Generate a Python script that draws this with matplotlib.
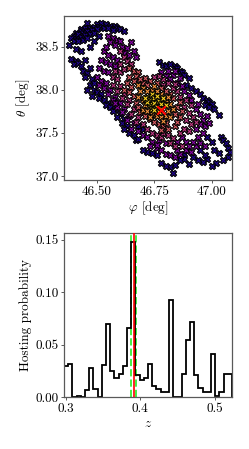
import numpy as np
import matplotlib
matplotlib.use("Agg")
import matplotlib.pyplot as plt

plt.rcParams['font.family'] = 'serif'
plt.rcParams['font.serif'] = ['cmr10']
plt.rcParams['mathtext.fontset'] = 'cm'
plt.rcParams['axes.formatter.use_mathtext'] = True

# ---------------- data: sky positions grouped by colour level ----------------
band_levels = [0.03, 0.28, 0.45, 0.58, 0.75, 0.92]

band_navy = [
    (46.46,38.77),(46.50,38.76),(46.52,38.77),(46.54,38.76),(46.56,38.74),(46.58,38.74),(46.59,38.72),
    (46.60,38.70),(46.62,38.68),(46.43,38.70),(46.45,38.71),(46.47,38.72),(46.49,38.73),(46.41,38.66),
    (46.43,38.68),(46.46,38.68),(46.48,38.69),(46.51,38.73),(46.53,38.72),(46.40,38.62),(46.42,38.64),
    (46.44,38.66),(46.39,38.60),(46.41,38.59),(46.43,38.61),(46.45,38.63),(46.47,38.65),(46.40,38.56),
    (46.42,38.57),(46.44,38.58),(46.46,38.60),(46.50,38.70),(46.55,38.71),(46.57,38.69),(46.49,38.66),
    (46.41,38.47),(46.43,38.45),(46.47,38.50),(46.49,38.56),(46.51,38.62),(46.38,38.52),
    (46.39,38.36),(46.41,38.33),(46.40,38.30),(46.42,38.31),(46.43,38.28),(46.45,38.35),(46.44,38.22),
    (46.46,38.19),(46.45,38.15),(46.48,38.12),(46.47,38.05),(46.49,38.00),(46.46,38.00),(46.50,37.97),
    (46.48,37.93),(46.52,37.95),(46.51,37.90),(46.53,37.88),(46.55,37.85),(46.54,37.82),(46.56,37.80),
    (46.58,37.78),(46.57,37.75),(46.60,37.72),(46.59,37.68),(46.62,37.66),(46.61,37.62),(46.63,37.58),
    (46.62,37.55),(46.64,37.50),(46.66,37.48),(46.67,37.42),(46.68,37.43),(46.47,38.25),(46.49,38.08),
    (46.77,38.32),(46.79,38.29),(46.80,38.27),(46.82,38.30),(46.84,38.28),(46.85,38.25),(46.86,38.22),
    (46.87,38.20),(46.88,38.17),(46.90,38.13),(46.89,38.05),(46.91,38.02),(46.93,37.98),(46.95,37.95),
    (46.96,37.90),(46.98,37.88),(46.99,37.86),(47.00,37.83),(46.97,37.82),(47.03,37.71),(46.99,37.80),
    (47.01,37.78),(47.04,37.45),(47.05,37.42),(47.06,37.38),(47.07,37.33),(47.08,37.28),(47.07,37.22),
    (47.05,37.18),(47.02,37.15),(47.00,37.12),(46.98,37.20),(46.96,37.16),(46.94,37.18),(46.92,37.22),
    (46.90,37.14),(46.88,37.20),(46.86,37.18),(46.84,37.13),(46.82,37.11),(46.80,37.12),(46.78,37.15),
    (46.83,37.04),(46.76,37.24),(46.74,37.27),(46.72,37.28),(46.70,37.30),(46.95,37.30),(47.03,37.27),
    (47.00,37.40),(46.98,37.45),(46.70,37.55),(46.68,37.58),(46.88,37.25),(46.97,37.24),(47.01,37.30),
]
band_purple = [
    (46.55,38.62),(46.57,38.60),(46.59,38.58),(46.56,38.55),(46.60,38.56),(46.58,38.52),(46.61,38.50),
    (46.63,38.48),(46.65,38.55),(46.62,38.43),(46.66,38.45),(46.64,38.40),(46.67,38.38),(46.53,38.45),
    (46.55,38.40),(46.57,38.38),(46.52,38.35),(46.54,38.32),(46.56,38.30),(46.58,38.28),(46.51,38.25),
    (46.53,38.22),(46.55,38.20),(46.50,38.15),(46.52,38.10),(46.54,38.08),(46.53,38.02),(46.56,38.00),
    (46.55,37.95),(46.58,37.92),(46.57,37.88),(46.60,37.85),(46.59,37.80),(46.62,37.78),(46.61,37.74),
    (46.64,37.70),(46.63,37.65),(46.66,37.62),(46.65,37.55),(46.68,37.52),(46.70,37.48),(46.72,37.45),
    (46.74,37.40),(46.73,37.35),(46.76,37.32),(46.78,37.30),(46.80,37.26),(46.82,37.24),(46.84,37.22),
    (46.86,37.25),(46.85,37.30),(46.89,37.30),(46.91,37.28),(46.93,37.35),(46.92,37.40),(46.95,37.38),
    (46.97,37.35),(46.94,37.45),(46.96,37.50),(46.93,37.55),(46.97,37.58),(46.99,37.62),(46.96,37.65),
    (46.98,37.70),(46.95,37.72),(46.93,37.78),(46.94,37.84),(46.91,37.88),(46.90,37.94),(46.88,37.98),
    (46.87,38.04),(46.85,38.08),(46.86,38.14),(46.83,38.17),(46.84,38.22),(46.81,38.22),(46.78,38.20),
    (46.80,38.16),(46.82,38.12),(46.87,37.45),(46.85,37.40),(46.89,37.40),(46.80,37.38),(46.77,37.42),
    (46.76,37.36),(46.54,38.50),(46.59,38.35),(46.51,38.05),(46.58,37.85),(46.90,37.35),(46.95,37.60),
]
band_magenta = [
    (46.60,38.45),(46.62,38.38),(46.63,38.33),(46.65,38.30),(46.60,38.30),(46.58,38.22),(46.60,38.20),
    (46.62,38.24),(46.57,38.15),(46.59,38.12),(46.57,38.06),(46.60,38.04),(46.59,37.98),(46.62,37.95),
    (46.61,37.90),(46.64,37.88),(46.63,37.83),(46.66,37.78),(46.65,37.72),(46.68,37.68),(46.67,37.63),
    (46.70,37.60),(46.72,37.55),(46.74,37.50),(46.76,37.47),(46.78,37.45),(46.79,37.50),(46.81,37.47),
    (46.83,37.44),(46.82,37.38),(46.84,37.35),(46.87,37.35),(46.86,37.50),(46.88,37.55),(46.90,37.52),
    (46.91,37.60),(46.89,37.65),(46.92,37.68),(46.90,37.73),(46.88,37.80),(46.91,37.82),(46.89,37.88),
    (46.86,37.92),(46.85,37.98),(46.83,38.02),(46.84,38.07),(46.81,38.08),(46.79,38.12),(46.77,38.16),
    (46.75,38.15),(46.79,38.06),(46.93,37.63),
]
band_pink = [
    (46.64,38.25),(46.66,38.22),(46.68,38.20),(46.67,38.16),(46.64,38.15),(46.66,38.10),(46.63,38.08),
    (46.65,38.03),(46.62,38.00),(46.64,37.97),(46.66,37.93),(46.67,37.85),(46.68,37.80),(46.69,37.74),
    (46.71,37.70),(46.73,37.66),(46.75,37.63),(46.77,37.60),(46.79,37.58),(46.78,37.53),(46.81,37.55),
    (46.80,37.62),(46.84,37.58),(46.85,37.63),(46.86,37.68),(46.84,37.72),(46.87,37.75),(46.85,37.80),
    (46.86,37.86),(46.83,37.90),(46.82,37.95),(46.80,37.98),(46.78,38.02),(46.76,38.08),(46.73,38.10),
    (46.71,38.14),(46.70,38.08),(46.72,38.05),(46.69,38.12),
]
band_orange = [
    (46.68,38.05),(46.70,38.02),(46.69,37.98),(46.68,37.92),(46.70,37.88),(46.71,37.82),(46.70,37.77),
    (46.72,37.75),(46.74,37.72),(46.76,37.70),(46.78,37.68),(46.80,37.70),(46.82,37.68),(46.81,37.75),
    (46.83,37.78),(46.82,37.84),(46.80,37.88),(46.81,37.92),(46.78,37.95),(46.76,37.98),(46.74,38.00),
    (46.72,37.98),(46.75,38.04),(46.79,37.64),(46.73,37.68),
]
band_yellow = [
    (46.72,37.92),(46.73,37.88),(46.74,37.95),(46.75,37.90),(46.73,37.83),(46.75,37.85),(46.76,37.80),
    (46.74,37.78),(46.77,37.87),(46.78,37.83),(46.79,37.90),(46.76,37.93),(46.72,37.86),(46.78,37.78),
    (46.77,37.74),(46.75,37.76),(46.80,37.82),(46.71,37.90),
]
bands = [band_navy, band_purple, band_magenta, band_pink, band_orange, band_yellow]

true_phi, true_theta = 46.78, 37.77

# ---------------- data: redshift histogram ----------------
z_lo, z_hi, n_bins = 0.2973, 0.5233, 40
host_prob = [0.030, 0.032, 0.0, 0.001, 0.0, 0.007, 0.028, 0.008, 0.0, 0.031,
             0.070, 0.025, 0.018, 0.022, 0.030, 0.066, 0.148, 0.021, 0.0165, 0.018,
             0.032, 0.011, 0.0076, 0.005, 0.005, 0.093, 0.0, 0.0, 0.022, 0.055,
             0.072, 0.021, 0.0086, 0.0054, 0.0054, 0.041, 0.001, 0.005, 0.022, 0.022]
z_true = 0.3915
z_band = [0.3878, 0.3945]

# ---------------- figure ----------------
W, H = 249, 449
fig = plt.figure(figsize=(W / 100, H / 100), dpi=100)
spine_col = '0.35'

ax1 = fig.add_axes([64 / W, 1 - 180 / H, 168 / W, 164 / H])
cmap = plt.get_cmap('plasma')
for lvl, pts in zip(band_levels, bands):
    arr = np.array(pts)
    ax1.scatter(arr[:, 0], arr[:, 1], s=20, marker='X', color=cmap(lvl),
                edgecolors='k', linewidths=0.8, zorder=2)
ax1.scatter([true_phi], [true_theta], s=36, marker='x', color='red', linewidths=1.5, zorder=3)
ax1.set_xlim(46.358, 47.088)
ax1.set_ylim(36.954, 38.854)
ax1.set_xticks([46.50, 46.75, 47.00])
ax1.set_xticklabels(['46.50', '46.75', '47.00'])
ax1.set_yticks([37.0, 37.5, 38.0, 38.5])
ax1.set_yticklabels(['37.0', '37.5', '38.0', '38.5'])
ax1.set_xlabel(r'$\varphi$ [deg]', fontsize=9.5, labelpad=1)
ax1.set_ylabel(r'$\theta$ [deg]', fontsize=9.5, labelpad=2)

ax2 = fig.add_axes([64 / W, 1 - 397.3 / H, 168 / W, (397.3 - 233) / H])
edges = np.linspace(z_lo, z_hi, n_bins + 1)
ax2.stairs(host_prob, edges, color='k', linewidth=1.3, zorder=2)
for zb in z_band:
    ax2.axvline(zb, color='#44ee44', linestyle='--', linewidth=1.4, zorder=1)
ax2.axvline(z_true, color='red', linewidth=1.2, zorder=3)
ax2.set_xlim(z_lo, z_hi)
ax2.set_ylim(0, 0.1564)
ax2.set_xticks([0.3, 0.4, 0.5])
ax2.set_xticklabels(['0.3', '0.4', '0.5'])
ax2.set_yticks([0.0, 0.05, 0.10, 0.15])
ax2.set_yticklabels(['0.00', '0.05', '0.10', '0.15'])
ax2.set_xlabel(r'$z$', fontsize=9.5, labelpad=2)
ax2.set_ylabel('Hosting probability', fontsize=9.5, labelpad=2)

for ax in (ax1, ax2):
    for s in ax.spines.values():
        s.set_color(spine_col)
        s.set_linewidth(0.9)
    ax.tick_params(labelsize=9.5, length=2.5, width=0.7, color=spine_col, pad=1.5)

fig.savefig('out.png', dpi=100)
